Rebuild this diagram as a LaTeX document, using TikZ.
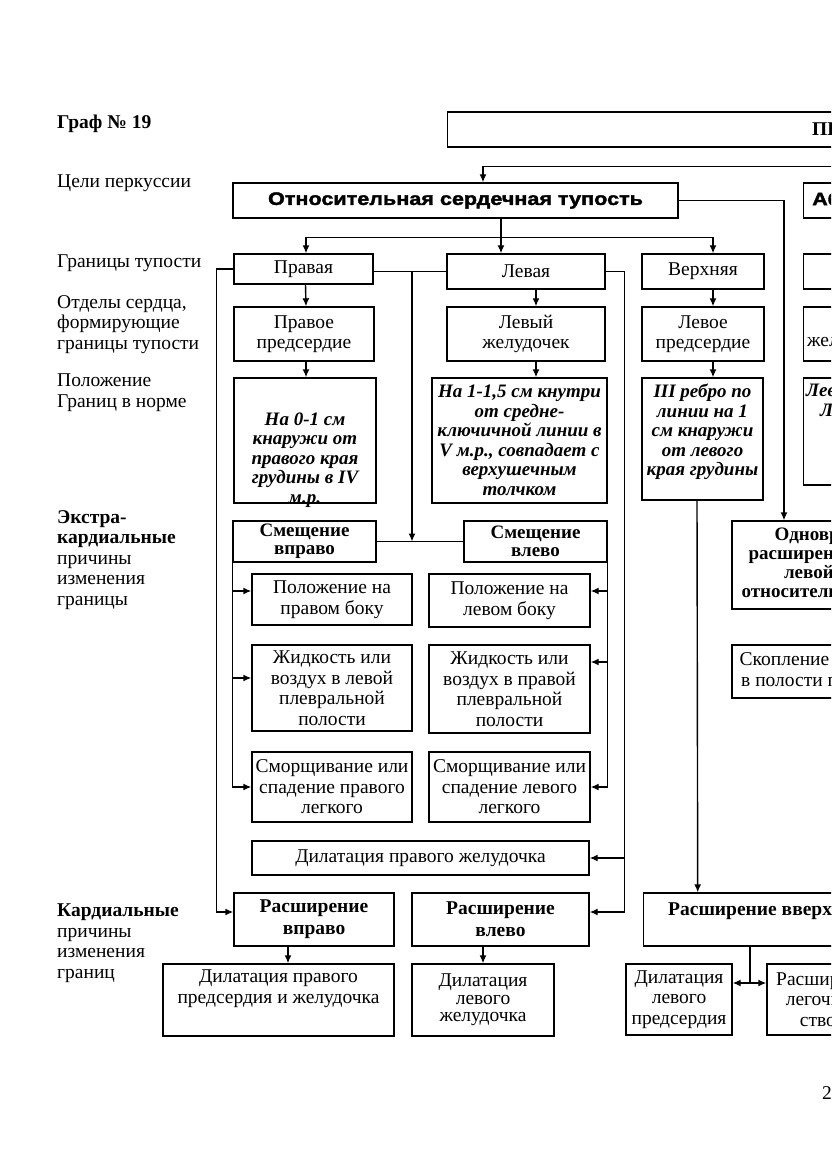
\documentclass[tikz,border=0pt]{standalone}
\usepackage{fontspec}
\setmainfont{Liberation Serif}
\newfontfamily\heavysans{Liberation Sans}[FakeStretch=1.2,FakeBold=2]
\usetikzlibrary{arrows.meta}

\begin{document}
\fontsize{19.5}{20.5}\selectfont
\begin{tikzpicture}[x=1pt,y=-1pt]
  \tikzstyle{box}=[draw, line width=1.4pt, inner sep=0pt, align=center]
  \tikzstyle{txt}=[inner sep=0pt, align=center]
  \tikzstyle{lab}=[inner sep=0pt, align=left, anchor=north west]
  \tikzstyle{hd}=[font=\bfseries\fontsize{19}{18}\selectfont]
  \tikzstyle{nrm}=[font=\bfseries\itshape\fontsize{19}{19.5}\selectfont]
  \tikzstyle{arr}=[line width=1.4pt, -{Latex[length=8pt,width=7pt]}]
  \tikzstyle{ln}=[line width=1.4pt]
  \useasboundingbox (0,0) rectangle (831,1174);
  \clip (0,0) rectangle (831,1174);

  % captions on the left
  \node[lab, font=\bfseries] (g19) at (57,115) {Граф № 19};
  \node[lab] (cel) at (57,175) {Цели перкуссии};
  \node[lab] (gran) at (57,255) {Границы тупости};
  \node[lab] (otd) at (57,295) {Отделы сердца,\\формирующие\\границы тупости};
  \node[lab] (pol) at (57,374) {Положение\\Границ в норме};
  \node[lab] (ekst) at (57,510) {\textbf{Экстра-}\\\textbf{кардиальные}\\причины\\изменения\\границы};
  \node[lab] (kard) at (57,904) {\textbf{Кардиальные}\\причины\\изменения\\границ};

  % top rows
  \node[box, minimum width=900pt, minimum height=35pt, anchor=west] (top) at (447,129.5) {};
  \node[txt, anchor=west, font=\bfseries] (topt) at (812,131) {ПЕРКУССИЯ СЕРДЦА};
  \node[box, minimum width=445pt, minimum height=35pt, font=\heavysans\bfseries\fontsize{18}{20}\selectfont] (otn) at (455.5,200.5) {Относительная сердечная тупость};
  \node[box, minimum width=500pt, minimum height=35pt, anchor=west] (abs) at (803,200.5) {};
  \node[txt, anchor=west, font=\heavysans\bfseries\fontsize{18}{20}\selectfont] (abst) at (812,200.5) {Абсолютная сердечная тупость};

  \node[box, minimum width=139pt, minimum height=30pt] (pr) at (303.5,269) {Правая};
  \node[box, minimum width=158pt, minimum height=35pt] (lv) at (526,271.5) {Левая};
  \node[box, minimum width=122pt, minimum height=35pt] (vr) at (703,271.5) {Верхняя};
  \node[box, minimum width=300pt, minimum height=35pt, anchor=west] (ab1) at (803,271.5) {};

  \node[box, minimum width=140pt, minimum height=54pt] (pp) at (304,334) {Правое\\предсердие};
  \node[box, minimum width=158pt, minimum height=54pt] (lz) at (526,334) {Левый\\желудочек};
  \node[box, minimum width=122pt, minimum height=54pt] (vp) at (703,334) {Левое\\предсердие};
  \node[box, minimum width=300pt, minimum height=54pt, anchor=west] (ab2) at (803,334) {};
  \node[txt, anchor=base west] (ab2t) at (807,346) {желудочек};

  \node[box, minimum width=142pt, minimum height=125pt] (pn) at (305,440.5) {};
  \node[txt, nrm] (pnt) at (305,460) {На 0-1 см\\кнаружи от\\правого края\\грудины в IV\\м.р.};
  \node[box, nrm, minimum width=175pt, minimum height=125pt] (ln) at (519.5,440.5) {На 1-1,5 см кнутри\\от средне-\\ключичной линии в\\V м.р., совпадает с\\верхушечным\\толчком};
  \node[box, minimum width=121pt, minimum height=122pt] (vn) at (702.5,439) {};
  \node[txt, nrm] (vnt) at (702.5,432) {III ребро по\\линии на 1\\см кнаружи\\от левого\\края грудины};
  \node[box, minimum width=300pt, minimum height=107pt, anchor=west] (ab3) at (803,431.5) {};
  \node[txt, nrm, anchor=base west, align=left] (ab3t) at (806,416) {Левый край\\\hspace*{14pt}Линия грудины};

  % extracardial causes
  \node[box, hd, minimum width=143pt, minimum height=41pt] (smv) at (304.5,541.5) {Смещение\\вправо};
  \node[box, hd, minimum width=143pt, minimum height=41pt] (sml) at (535.5,541.5) {Смещение\\влево};
  \node[box, minimum width=160pt, minimum height=51pt] (sr1) at (332,599.5) {Положение на\\правом боку};
  \node[box, minimum width=160pt, minimum height=86pt] (sr2) at (332,688) {Жидкость или\\воздух в левой\\плевральной\\полости};
  \node[box, minimum width=160pt, minimum height=70pt] (sr3) at (332,787) {Сморщивание или\\спадение правого\\легкого};
  \node[box, minimum width=161pt, minimum height=53pt] (sl1) at (509.5,600.5) {Положение на\\левом боку};
  \node[box, minimum width=161pt, minimum height=88pt] (sl2) at (509.5,689) {Жидкость или\\воздух в правой\\плевральной\\полости};
  \node[box, minimum width=161pt, minimum height=70pt] (sl3) at (509.5,787) {Сморщивание или\\спадение левого\\легкого};
  \node[box, minimum width=337pt, minimum height=34pt] (dpz) at (420.5,858) {Дилатация правого желудочка};
  \node[box, font=\bfseries\fontsize{19}{19}\selectfont, minimum width=220pt, minimum height=88pt] (odn) at (842,565) {Одновременное\\расширение правой и\\левой границ\\относительной тупости};
  \node[box, minimum width=190pt, minimum height=53pt] (sk) at (827,671.5) {Скопление жидкости\\в полости перикарда};

  % cardial causes
  \node[box, font=\bfseries\fontsize{19.5}{22}\selectfont, minimum width=160pt, minimum height=53pt] (rv) at (314,919.5) {Расширение\\вправо};
  \node[box, font=\bfseries\fontsize{19.5}{22}\selectfont, minimum width=177pt, minimum height=53pt] (rl) at (500.5,919.5) {Расширение\\влево};
  \node[box, minimum width=450pt, minimum height=53pt, anchor=west] (rvv) at (643,919.5) {};
  \node[txt, anchor=base west, font=\bfseries] (rvvt) at (668,915) {Расширение вверх};
  \node[box, minimum width=231pt, minimum height=72pt] (dr) at (278.5,1000) {};
  \node[txt] (drt) at (278.5,988.5) {Дилатация правого\\предсердия и желудочка};
  \node[box, font=\fontsize{19.5}{17.5}\selectfont, minimum width=142pt, minimum height=72pt] (dlz) at (483,1000) {Дилатация\\левого\\желудочка};
  \node[box, minimum width=106pt, minimum height=71pt] (dlp) at (679,999.5) {Дилатация\\левого\\предсердия};
  \node[box, minimum width=120pt, minimum height=71pt] (rpl) at (827,999.5) {Расширение\\легочного\\ствола};
  \node[txt, anchor=base west] (pg) at (822,1099) {2};

  % connectors
  \draw[arr] (top.south) -- ++(0,19) -| ([xshift=27.5pt]otn.north);
  \draw[arr] ([xshift=45.5pt]otn.south) -- ([xshift=-25pt]lv.north);
  \draw[arr] ([xshift=45.5pt]otn.south) ++(0,19) -| ([xshift=2.5pt]pr.north);
  \draw[arr] ([xshift=45.5pt]otn.south) ++(0,19) -| ([xshift=10pt]vr.north);
  \draw[arr] (otn.east) -| ([xshift=-58pt]odn.north);
  \draw[arr] ([xshift=2pt]pr.south) -- ([xshift=2pt]pp.north);
  \draw[arr] ([xshift=2pt]pp.south) -- ([xshift=1pt]pn.north);
  \draw[arr] ([xshift=10pt]lv.south) -- ([xshift=10pt]lz.north);
  \draw[arr] ([xshift=10pt]lz.south) -- ([xshift=16.5pt]ln.north);
  \draw[arr] ([xshift=10pt]vr.south) -- ([xshift=10pt]vp.north);
  \draw[arr] ([xshift=10pt]vp.south) -- ([xshift=10.5pt]vn.north);

  \draw[ln] (pr.east |- lv.west) -- (lv.west);
  \coordinate (jn) at (412,271.5);
  \draw[arr] (jn) -- (jn |- smv.east);
  \draw[ln] (smv.east) -- (sml.west);
  \draw[arr] (pr.west) -- ++(-17,0) |- ([yshift=7.5pt]rv.west);
  \draw[arr] (lv.east) -- ++(19,0) |- ([yshift=7.5pt]rl.east);
  \draw[arr] ([xshift=35pt]dpz.east) -- (dpz.east);

  \draw[arr] (smv.south west) |- (sr3.west);
  \draw[arr] ([xshift=-19pt,yshift=8.5pt]sr1.west) -- ([yshift=8.5pt]sr1.west);
  \draw[arr] ([xshift=-19pt,yshift=10pt]sr2.west) -- ([yshift=10pt]sr2.west);
  \draw[arr] (sml.south east) |- (sl3.east);
  \draw[arr] ([xshift=17pt,yshift=9.5pt]sl1.east) -- ([yshift=9.5pt]sl1.east);
  \draw[arr] ([xshift=17pt,yshift=27pt]sl2.east) -- ([yshift=27pt]sl2.east);

  \draw[arr] ([xshift=-26pt]rv.south) -- ([xshift=9.5pt]dr.north);
  \draw[arr] ([xshift=-17.5pt]rl.south) -- (dlz.north);
  \draw[arr] ([xshift=-5.5pt]vn.south) -- ([xshift=-171pt]rvv.north);
  \coordinate (jv) at (750,983);
  \draw[ln] (jv |- rvv.south) -- (jv);
  \draw[arr] (jv) -- (jv -| dlp.east);
  \draw[arr] (jv) -- (jv -| rpl.west);
\end{tikzpicture}
\end{document}
